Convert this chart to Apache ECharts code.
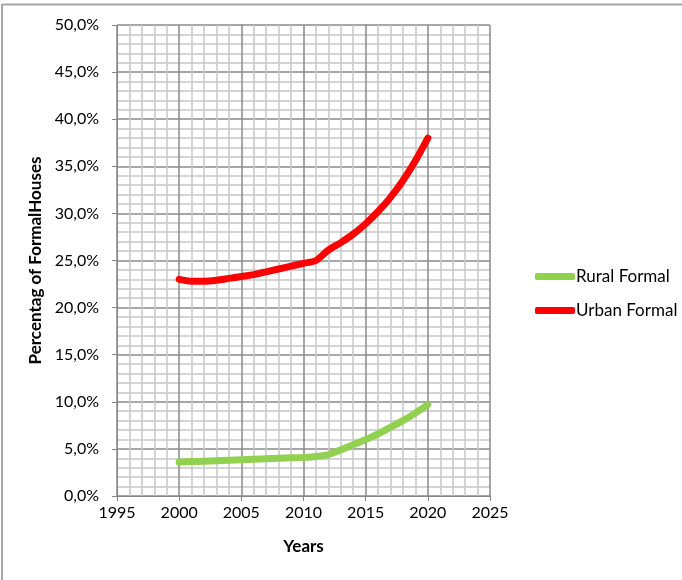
<!DOCTYPE html>
<html>
<head>
<meta charset="utf-8">
<script src="https://cdn.jsdelivr.net/npm/echarts@6/dist/echarts.min.js"></script>
<style>
  html, body { margin: 0; padding: 0; background: #fff; }
  #chart { width: 682px; height: 580px; }
</style>
</head>
<body>
<div id="chart"></div>
<script>
// Share of formal houses by year (percent)
const years = [2000, 2001, 2002, 2003, 2004, 2005, 2006, 2007, 2008, 2009, 2010,
               2011, 2012, 2013, 2014, 2015, 2016, 2017, 2018, 2019, 2020];
const ruralFormal = [3.6, 3.65, 3.7, 3.75, 3.8, 3.85, 3.9, 3.95, 4.0, 4.05, 4.1,
                     4.2, 4.4, 4.9, 5.45, 6.0, 6.6, 7.3, 8.0, 8.8, 9.7];
const urbanFormal = [23.0, 22.8, 22.8, 22.9, 23.1, 23.3, 23.5, 23.8, 24.1, 24.4, 24.7,
                     25.0, 26.1, 26.9, 27.8, 28.9, 30.2, 31.7, 33.5, 35.6, 38.0];
const seriesNames = ['Rural Formal', 'Urban Formal'];
const xTitle = 'Years';
const yTitle = 'Percentag of FormalHouses';

const pairs = (vals) => years.map((y, i) => [y, vals[i]]);
const pct = (v) => v.toFixed(1).replace('.', ',') + '%';
const FONT = 'Lato';

const chart = echarts.init(document.getElementById('chart'), null, { renderer: 'canvas' });
chart.setOption({
  animation: false,
  backgroundColor: '#ffffff',
  textStyle: { fontFamily: FONT },
  grid: { left: 117, right: 192, top: 25, bottom: 84, containLabel: false },
  xAxis: {
    type: 'value', min: 1995, max: 2025, interval: 5,
    name: xTitle, nameLocation: 'middle', nameGap: 42,
    nameTextStyle: { fontFamily: FONT, fontWeight: 'bold', fontSize: 17, color: '#000' },
    axisLine: { show: true, onZero: false, lineStyle: { color: '#868686', width: 1 } },
    axisTick: { show: true, length: 5, lineStyle: { color: '#868686' } },
    axisLabel: { fontFamily: FONT, fontSize: 16, color: '#000', margin: 9, formatter: (v) => String(v) },
    splitLine: { show: true, lineStyle: { color: '#8a8a8a', width: 1.5 } },
    minorTick: { show: false, splitNumber: 5 },
    minorSplitLine: { show: true, lineStyle: { color: '#c8c8c8', width: 1.5 } }
  },
  yAxis: {
    type: 'value', min: 0, max: 50, interval: 5,
    name: yTitle, nameLocation: 'middle', nameGap: 71, nameRotate: 90,
    nameTextStyle: { fontFamily: FONT, fontWeight: 'bold', fontSize: 17, color: '#000' },
    axisLine: { show: true, lineStyle: { color: '#868686', width: 1 } },
    axisTick: { show: true, length: 5, lineStyle: { color: '#868686' } },
    axisLabel: { fontFamily: FONT, fontSize: 16, color: '#000', margin: 18, formatter: pct },
    splitLine: { show: true, lineStyle: { color: '#8a8a8a', width: 1.5 } },
    minorTick: { show: false, splitNumber: 5 },
    minorSplitLine: { show: true, lineStyle: { color: '#c8c8c8', width: 1.5 } }
  },
  legend: {
    orient: 'vertical', left: 530, top: 263, itemGap: 17,
    itemWidth: 40, itemHeight: 7, icon: 'roundRect',
    textStyle: { fontFamily: FONT, fontSize: 17, color: '#000', padding: [0, 0, 0, -4] },
    data: seriesNames
  },
  graphic: [
    { type: 'line', shape: { x1: 2, y1: 4.5, x2: 682, y2: 4.5 }, style: { stroke: '#a6a6a6', lineWidth: 2 } },
    { type: 'line', shape: { x1: 2, y1: 4, x2: 2, y2: 580 }, style: { stroke: '#a6a6a6', lineWidth: 2 } }
  ],
  series: [
    {
      name: seriesNames[0], type: 'line', data: pairs(ruralFormal),
      smooth: 0.3, showSymbol: false, symbol: 'none',
      lineStyle: { color: '#92D050', width: 7, cap: 'round', join: 'round' },
      itemStyle: { color: '#92D050' }
    },
    {
      name: seriesNames[1], type: 'line', data: pairs(urbanFormal),
      smooth: 0.3, showSymbol: false, symbol: 'none',
      lineStyle: { color: '#FF0000', width: 7, cap: 'round', join: 'round' },
      itemStyle: { color: '#FF0000' }
    }
  ]
});
</script>
</body>
</html>
